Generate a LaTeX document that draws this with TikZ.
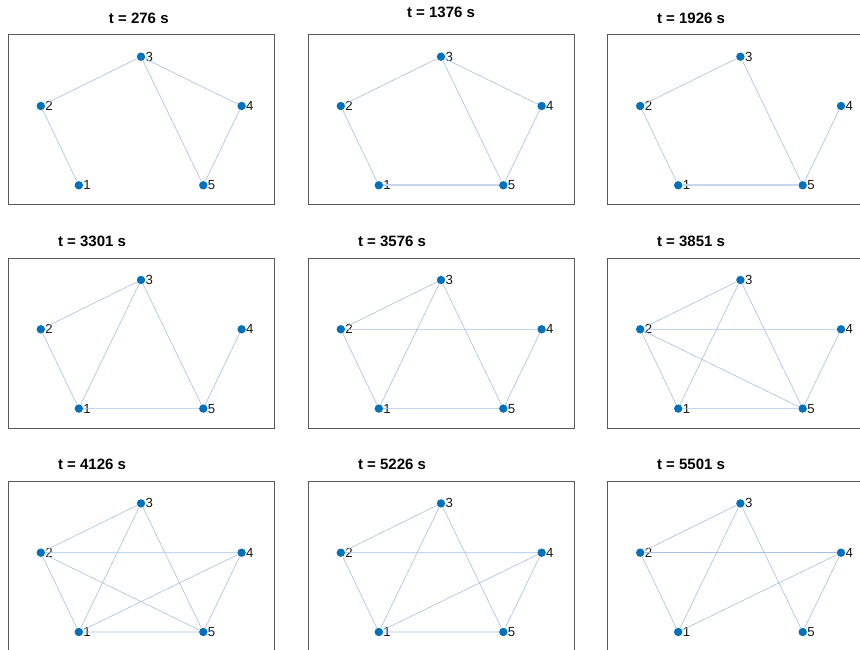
\documentclass[tikz,border=0pt]{standalone}
\usepackage{fontspec}
\setmainfont{Liberation Sans}

\definecolor{nodeblue}{RGB}{0,114,189}
\definecolor{edgeblue}{RGB}{168,190,230}
\definecolor{paleblue}{RGB}{200,214,240}

\tikzset{
	vertex/.style={circle, fill=nodeblue, inner sep=0pt, minimum size=8.4pt},
	vlabel/.style={inner sep=0pt, label distance=0pt, text=black!90,
		font=\fontsize{13.2}{14}\selectfont},
	edge/.style={draw=edgeblue, line width=0.6pt},
	heavyedge/.style={draw=paleblue, line width=1.6pt},
	frame/.style={draw=black!65, line width=1pt},
	ptitle/.style={inner sep=0pt, font=\fontsize{15}{16}\selectfont\bfseries}
}

% one panel: frame and the five stations (#1 prefix, #2 left, #3 top)
\newcommand{\netpanel}[3]{%
	\draw[frame] (#2,#3) rectangle ++(266,170);
	\node[vertex, label={[vlabel]right:1}] (#11) at (#2+70.5,#3+150.3) {};
	\node[vertex, label={[vlabel]right:2}] (#12) at (#2+32.5,#3+71) {};
	\node[vertex, label={[vlabel]right:3}] (#13) at (#2+132.7,#3+21.7) {};
	\node[vertex, label={[vlabel]right:4}] (#14) at (#2+233.3,#3+71) {};
	\node[vertex, label={[vlabel]right:5}] (#15) at (#2+195,#3+150.3) {};
}

\begin{document}
\begin{tikzpicture}[x=1pt, y=-1pt]
	\useasboundingbox (0,0) rectangle (860,650);
	\clip (0,0) rectangle (860,650);
	
	% t = 276 s
	\netpanel{A}{8.3}{35}
	\node[ptitle] (At) at (138.8,18.3) {t = 276 s};
	\draw[edge] (A1) -- (A2) -- (A3) -- (A4) -- (A5) -- (A3);
	
	% t = 1376 s
	\netpanel{B}{308.3}{35}
	\node[ptitle] (Bt) at (441,12.5) {t = 1376 s};
	\draw[heavyedge] (B1) -- (B5);
	\draw[edge] (B1) -- (B2) -- (B3) -- (B4) -- (B5) -- (B3);
	
	% t = 1926 s
	\netpanel{C}{607.7}{35}
	\node[ptitle] (Ct) at (691,18.3) {t = 1926 s};
	\draw[heavyedge] (C1) -- (C5);
	\draw[edge] (C1) -- (C2) -- (C3) -- (C5) -- (C4);
	
	% t = 3301 s
	\netpanel{D}{8.3}{258.3}
	\node[ptitle] (Dt) at (92,241.7) {t = 3301 s};
	\draw[edge] (D1) -- (D2) -- (D3) -- (D1) -- (D5) -- (D3);
	\draw[edge] (D5) -- (D4);
	
	% t = 3576 s
	\netpanel{E}{308.3}{258.3}
	\node[ptitle] (Et) at (392,241.7) {t = 3576 s};
	\draw[edge] (E1) -- (E2) -- (E3) -- (E1) -- (E5) -- (E3);
	\draw[edge] (E2) -- (E4) -- (E5);
	
	% t = 3851 s
	\netpanel{F}{607.7}{258.3}
	\node[ptitle] (Ft) at (691,241.7) {t = 3851 s};
	\draw[edge] (F1) -- (F2) -- (F3) -- (F1) -- (F5) -- (F3);
	\draw[edge] (F2) -- (F4) -- (F5) -- (F2);
	
	% t = 4126 s
	\netpanel{G}{8.3}{481.7}
	\node[ptitle] (Gt) at (92,464.8) {t = 4126 s};
	\draw[edge] (G1) -- (G2) -- (G3) -- (G1) -- (G5) -- (G3);
	\draw[edge] (G2) -- (G4) -- (G5) -- (G2);
	\draw[edge] (G1) -- (G4);
	
	% t = 5226 s
	\netpanel{H}{308.3}{481.7}
	\node[ptitle] (Ht) at (392,464.8) {t = 5226 s};
	\draw[edge] (H1) -- (H2) -- (H3) -- (H1) -- (H5) -- (H3);
	\draw[edge] (H2) -- (H4) -- (H5);
	\draw[edge] (H1) -- (H4);
	
	% t = 5501 s
	\netpanel{I}{607.7}{481.7}
	\node[ptitle] (It) at (691,464.8) {t = 5501 s};
	\draw[edge] (I1) -- (I2) -- (I3) -- (I1) -- (I4) -- (I5) -- (I3);
	\draw[edge] (I2) -- (I4);
\end{tikzpicture}
\end{document}
